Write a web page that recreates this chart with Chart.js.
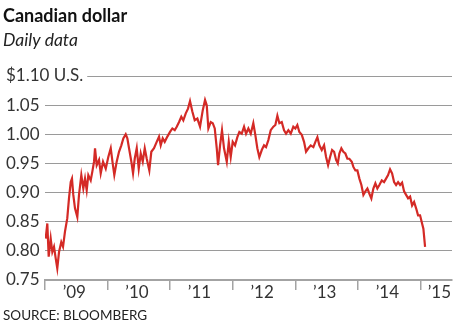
<!DOCTYPE html>
<html>
<head>
<meta charset="utf-8">
<script src="https://cdn.jsdelivr.net/npm/chart.js@4.4.1/dist/chart.umd.min.js"></script>
<style>
  html, body { margin: 0; padding: 0; background: #fff; }
  #wrap { position: relative; width: 460px; height: 325px; }
</style>
</head>
<body>
<div id="wrap"><canvas id="cadChart" width="460" height="325"></canvas></div>
<script>
const titleText = "Canadian dollar";
const subtitleText = "Daily data";
const sourceText = "SOURCE: BLOOMBERG";

// time as fractional year, Canadian dollar in U.S. dollars
const yearFrac = [
  2009.011, 2009.037, 2009.059, 2009.091, 2009.117, 2009.144, 2009.171, 2009.196, 2009.224, 2009.260,
  2009.288, 2009.319, 2009.356, 2009.383, 2009.411, 2009.431, 2009.452, 2009.479, 2009.516, 2009.543,
  2009.580, 2009.612, 2009.639, 2009.666, 2009.692, 2009.730, 2009.756, 2009.783, 2009.799, 2009.826,
  2009.863, 2009.890, 2009.927, 2009.970, 2010.011, 2010.050, 2010.081, 2010.107, 2010.145, 2010.182,
  2010.219, 2010.251, 2010.289, 2010.315, 2010.342, 2010.379, 2010.406, 2010.433, 2010.465, 2010.497,
  2010.529, 2010.561, 2010.593, 2010.625, 2010.666, 2010.698, 2010.741, 2010.784, 2010.821, 2010.848,
  2010.880, 2010.912, 2010.954, 2010.997, 2011.034, 2011.072, 2011.104, 2011.141, 2011.177, 2011.209,
  2011.248, 2011.284, 2011.316, 2011.353, 2011.391, 2011.433, 2011.476, 2011.519, 2011.556, 2011.583,
  2011.609, 2011.647, 2011.679, 2011.711, 2011.743, 2011.764, 2011.796, 2011.827, 2011.859, 2011.903,
  2011.935, 2011.966, 2011.998, 2012.035, 2012.072, 2012.104, 2012.142, 2012.179, 2012.211, 2012.248,
  2012.286, 2012.327, 2012.359, 2012.391, 2012.423, 2012.462, 2012.498, 2012.530, 2012.567, 2012.605,
  2012.647, 2012.679, 2012.711, 2012.743, 2012.781, 2012.818, 2012.850, 2012.887, 2012.925, 2012.966,
  2012.998, 2013.030, 2013.062, 2013.101, 2013.137, 2013.169, 2013.206, 2013.244, 2013.286, 2013.318,
  2013.350, 2013.382, 2013.420, 2013.457, 2013.489, 2013.521, 2013.553, 2013.585, 2013.617, 2013.649,
  2013.676, 2013.701, 2013.733, 2013.765, 2013.797, 2013.829, 2013.861, 2013.899, 2013.925, 2013.957,
  2013.989, 2014.021, 2014.053, 2014.085, 2014.117, 2014.149, 2014.181, 2014.212, 2014.244, 2014.276,
  2014.308, 2014.340, 2014.379, 2014.415, 2014.447, 2014.479, 2014.511, 2014.543, 2014.575, 2014.607,
  2014.639, 2014.671, 2014.703, 2014.735, 2014.767, 2014.799, 2014.831, 2014.863, 2014.895, 2014.927,
  2014.958, 2014.990, 2015.022, 2015.043, 2015.070
];
const cadUsd = [
  0.821, 0.847, 0.790, 0.821, 0.798, 0.807, 0.787, 0.770, 0.798, 0.815,
  0.807, 0.833, 0.856, 0.890, 0.918, 0.924, 0.896, 0.873, 0.858, 0.896,
  0.930, 0.907, 0.924, 0.904, 0.930, 0.921, 0.936, 0.953, 0.976, 0.947,
  0.956, 0.933, 0.953, 0.941, 0.961, 0.976, 0.950, 0.930, 0.953, 0.970,
  0.981, 0.993, 1.000, 0.993, 0.976, 0.953, 0.933, 0.958, 0.976, 0.941,
  0.967, 0.953, 0.976, 0.958, 0.938, 0.970, 0.976, 0.987, 0.996, 0.981,
  0.993, 0.987, 0.996, 1.004, 1.010, 1.007, 1.013, 1.021, 1.030, 1.024,
  1.036, 1.044, 1.057, 1.039, 1.024, 1.027, 1.013, 1.041, 1.059, 1.050,
  1.010, 1.021, 1.019, 1.010, 0.976, 0.947, 0.981, 1.007, 0.976, 0.953,
  0.987, 0.961, 0.987, 0.981, 0.995, 1.004, 1.001, 1.013, 1.001, 1.010,
  1.001, 1.019, 0.999, 0.976, 0.961, 0.973, 0.981, 0.978, 0.990, 1.007,
  1.013, 1.016, 1.032, 1.019, 1.021, 1.007, 1.001, 1.007, 1.001, 1.013,
  1.010, 1.016, 1.004, 0.999, 0.987, 0.970, 0.976, 0.981, 0.978, 0.987,
  0.995, 0.981, 0.973, 0.981, 0.961, 0.947, 0.961, 0.973, 0.970, 0.956,
  0.950, 0.967, 0.976, 0.970, 0.967, 0.958, 0.958, 0.953, 0.944, 0.938,
  0.938, 0.924, 0.913, 0.896, 0.902, 0.907, 0.898, 0.890, 0.907, 0.916,
  0.907, 0.913, 0.921, 0.918, 0.924, 0.930, 0.940, 0.933, 0.918, 0.913,
  0.918, 0.913, 0.917, 0.902, 0.896, 0.890, 0.893, 0.878, 0.884, 0.873,
  0.861, 0.861, 0.847, 0.838, 0.807
];

const yTicks = [0.75, 0.80, 0.85, 0.90, 0.95, 1.00, 1.05, 1.10];
const yearTicks = [2009, 2010, 2011, 2012, 2013, 2014, 2015];
const yearLabels = ["\u201909", "\u201910", "\u201911", "\u201912", "\u201913", "\u201914", "\u201915"];
const yearLabelPos = [2009.5, 2010.5, 2011.5, 2012.5, 2013.5, 2014.5, 2015.33];

const points = yearFrac.map((t, i) => ({ x: t, y: cadUsd[i] }));

// title, subtitle, source line and the year labels centred in each year
const textPlugin = {
  id: "chartText",
  afterDraw(chart) {
    const { ctx } = chart;
    const xs = chart.scales.x;
    ctx.save();
    ctx.textBaseline = "alphabetic";
    ctx.fillStyle = "#111";
    ctx.font = "bold 18px Lato";
    ctx.fillText(titleText, 3, 22);
    ctx.font = "italic 17.5px Lato";
    ctx.fillStyle = "#222";
    ctx.fillText(subtitleText, 3, 46);
    ctx.font = "13.5px Lato";
    ctx.fillText(sourceText, 3, 320);
    ctx.font = "17px Lato";
    ctx.fillStyle = "#333";
    ctx.textAlign = "center";
    yearLabels.forEach((lab, i) => {
      ctx.fillText(lab, xs.getPixelForValue(yearLabelPos[i]) - 2, 298);
    });
    ctx.restore();
  }
};

new Chart(document.getElementById("cadChart"), {
  type: "line",
  data: {
    datasets: [{
      data: points,
      borderColor: "#d42a26",
      borderWidth: 2.2,
      pointRadius: 0,
      tension: 0,
      fill: false
    }]
  },
  options: {
    responsive: false,
    animation: false,
    devicePixelRatio: 1,
    layout: { padding: { left: 6, right: 8, top: 76, bottom: 0 } },
    plugins: {
      legend: { display: false },
      tooltip: { enabled: false }
    },
    scales: {
      x: {
        type: "linear",
        min: 2009,
        max: 2015.5,
        afterBuildTicks: s => { s.ticks = yearTicks.map(v => ({ value: v })); },
        afterFit: s => { s.height = 45; },
        ticks: { display: false },
        border: { display: true, color: "#a3a3a3", width: 2 },
        grid: {
          drawOnChartArea: false,
          drawTicks: true,
          tickLength: 10,
          color: "#a3a3a3",
          lineWidth: 1.5
        }
      },
      y: {
        min: 0.75,
        max: 1.10,
        afterBuildTicks: s => { s.ticks = yTicks.map(v => ({ value: v })); },
        afterFit: s => { s.width = 39; },
        border: { display: false },
        grid: {
          drawTicks: false,
          color: "#9a9a9a",
          lineWidth: 1,
          borderDash: [1, 2]
        },
        ticks: {
          // mirrored so the wide top label is not clipped to the axis box
          mirror: true,
          padding: -39,
          crossAlign: "near",
          color: "#333",
          font: { family: "Lato", size: 17 },
          showLabelBackdrop: true,
          backdropColor: "#fff",
          backdropPadding: { left: 0, right: 4, top: 0, bottom: 0 },
          callback: v => v === 1.10 ? "$1.10 U.S." : v.toFixed(2)
        }
      }
    }
  },
  plugins: [textPlugin]
});
</script>
</body>
</html>
